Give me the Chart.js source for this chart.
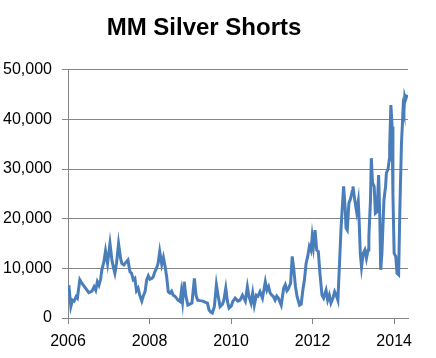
<!DOCTYPE html>
<html>
<head>
<meta charset="utf-8">
<script src="https://cdn.jsdelivr.net/npm/chart.js@4/dist/chart.umd.min.js"></script>
<style>
    body { margin: 0; background: #ffffff; }
    #wrap { width: 436px; height: 358px; }
</style>
</head>
<body>
<div id="wrap"><canvas id="shortsChart" width="436" height="358"></canvas></div>
<script>
// Datos (año decimal, contratos cortos)
const years = [
    2006.02, 2006.07, 2006.11, 2006.15, 2006.20, 2006.23, 2006.29, 2006.34, 2006.43, 2006.51,
    2006.59, 2006.64, 2006.68, 2006.72, 2006.76, 2006.80, 2006.83, 2006.88, 2006.92, 2006.97,
    2007.03, 2007.08, 2007.12, 2007.15, 2007.19, 2007.24, 2007.29, 2007.32, 2007.37, 2007.43,
    2007.47, 2007.52, 2007.56, 2007.60, 2007.64, 2007.68, 2007.72, 2007.76, 2007.81, 2007.85,
    2007.89, 2007.93, 2007.97, 2008.01, 2008.06, 2008.09, 2008.13, 2008.17, 2008.21, 2008.25,
    2008.30, 2008.34, 2008.38, 2008.42, 2008.46, 2008.50, 2008.54, 2008.58, 2008.62, 2008.66,
    2008.70, 2008.75, 2008.78, 2008.81, 2008.85, 2008.89, 2008.94, 2008.99, 2009.04, 2009.10,
    2009.14, 2009.18, 2009.24, 2009.31, 2009.36, 2009.42, 2009.46, 2009.50, 2009.54, 2009.59,
    2009.64, 2009.68, 2009.73, 2009.79, 2009.82, 2009.87, 2009.91, 2009.95, 2010.01, 2010.04,
    2010.10, 2010.17, 2010.22, 2010.28, 2010.35, 2010.40, 2010.44, 2010.49, 2010.53, 2010.57,
    2010.62, 2010.66, 2010.71, 2010.77, 2010.84, 2010.88, 2010.92, 2010.96, 2011.00, 2011.04,
    2011.08, 2011.12, 2011.16, 2011.23, 2011.29, 2011.33, 2011.37, 2011.40, 2011.46, 2011.50,
    2011.54, 2011.58, 2011.62, 2011.68, 2011.72, 2011.76, 2011.80, 2011.84, 2011.88, 2011.92,
    2011.96, 2011.99, 2012.02, 2012.06, 2012.10, 2012.14, 2012.18, 2012.23, 2012.27, 2012.33,
    2012.37, 2012.41, 2012.45, 2012.50, 2012.54, 2012.58, 2012.62, 2012.66, 2012.70, 2012.74,
    2012.76, 2012.80, 2012.82, 2012.85, 2012.89, 2012.93, 2012.97, 2012.99, 2013.03, 2013.08,
    2013.12, 2013.14, 2013.17, 2013.20, 2013.24, 2013.28, 2013.32, 2013.36, 2013.38, 2013.42,
    2013.44, 2013.47, 2013.51, 2013.54, 2013.58, 2013.62, 2013.65, 2013.67, 2013.70, 2013.75,
    2013.79, 2013.81, 2013.85, 2013.88, 2013.89, 2013.92, 2013.95, 2013.97, 2014.00, 2014.04,
    2014.07, 2014.11, 2014.14, 2014.18, 2014.20, 2014.22, 2014.24, 2014.26, 2014.28, 2014.32
];

const shorts = [
    6600, 2300, 3600, 3400, 4300, 4000, 7700, 7000, 6000, 5100,
    5400, 6300, 5600, 7300, 6600, 7800, 9700, 11300, 13500, 11000,
    15000, 11500, 10000, 9000, 11000, 15000, 12000, 11000, 10700, 11300,
    11700, 9300, 9000, 7700, 8000, 5500, 6000, 4600, 3400, 4500,
    5300, 7700, 8500, 7800, 8000, 8300, 9300, 10000, 11000, 13400,
    10800, 12200, 10500, 8300, 5300, 5000, 5400, 4600, 4400, 4000,
    3600, 3300, 5300, 3300, 7300, 4500, 2600, 2800, 3000, 8000,
    4600, 3600, 3500, 3400, 3200, 3000, 1600, 1200, 1000, 2300,
    6700, 4600, 2300, 2800, 3500, 6000, 3400, 2000, 2500, 3300,
    4000, 3400, 3600, 4600, 3400, 6300, 4300, 3000, 5000, 2600,
    4600, 4400, 5300, 4000, 7300, 5600, 6300, 5000, 4600, 4300,
    3600, 4400, 4000, 2600, 6000, 6700, 5500, 5800, 7000, 12400,
    9700, 6300, 4300, 2600, 2800, 5600, 7700, 11000, 12400, 14400,
    13600, 16400, 14400, 17700, 13700, 13400, 9000, 4600, 4000, 5600,
    3600, 4600, 3000, 4000, 5300, 4600, 3600, 11000, 18400, 23800,
    26500, 22000, 18100, 17700, 23100, 24000, 25500, 26500, 24000, 21400,
    23500, 20000, 13000, 10300, 13000, 13700, 12000, 13700, 16400, 23800,
    32200, 27200, 26500, 21100, 21400, 28800, 19800, 9700, 13000, 23800,
    26500, 29200, 30000, 31900, 34500, 42900, 38600, 25100, 13000, 12400,
    9000, 8700, 21800, 35200, 38600, 42300, 41500, 44600, 44000, 45000
];

const yTicks = [0, 10000, 20000, 30000, 40000, 50000];
const xTicks = [2006, 2008, 2010, 2012, 2014];

const GRID = '#868686';
const FONT = "'Liberation Sans', Arial, sans-serif";

document.addEventListener('DOMContentLoaded', function() {
    initializeShortsChart();
});

function initializeShortsChart() {
    const ctx = document.getElementById('shortsChart').getContext('2d');
    const points = years.map((y, i) => ({ x: y, y: shorts[i] }));

    window.shortsChart = new Chart(ctx, {
        type: 'line',
        data: {
            datasets: [{
                label: 'MM Silver Shorts',
                data: points,
                borderColor: '#4a7ebb',
                borderWidth: 3,
                pointRadius: 0,
                fill: false,
                tension: 0
            }]
        },
        options: {
            responsive: false,
            animation: false,
            layout: { padding: { left: 0, right: 28, top: 0, bottom: 0 } },
            plugins: {
                legend: { display: false },
                tooltip: { enabled: false },
                title: {
                    display: true,
                    text: 'MM Silver Shorts',
                    color: '#000000',
                    font: { family: FONT, size: 24, weight: 'bold' },
                    padding: { top: 14, bottom: 27 }
                }
            },
            scales: {
                x: {
                    type: 'linear',
                    min: 2006,
                    max: 2014.34,
                    afterBuildTicks: function(scale) {
                        scale.ticks = xTicks.map(v => ({ value: v }));
                    },
                    afterFit: function(scale) { scale.height = 40; },
                    grid: {
                        drawOnChartArea: false,
                        drawTicks: true,
                        tickLength: 6,
                        color: GRID
                    },
                    border: { color: GRID, width: 1 },
                    ticks: {
                        autoSkip: false,
                        maxRotation: 0,
                        padding: 8,
                        color: '#000000',
                        font: { family: FONT, size: 16 },
                        callback: function(value) { return String(value); }
                    }
                },
                y: {
                    min: 0,
                    max: 50000,
                    afterBuildTicks: function(scale) {
                        scale.ticks = yTicks.map(v => ({ value: v }));
                    },
                    afterFit: function(scale) { scale.width = 68; },
                    grid: {
                        color: GRID,
                        tickLength: 6,
                        lineWidth: 1
                    },
                    border: { color: GRID, width: 1 },
                    ticks: {
                        padding: 10,
                        color: '#000000',
                        font: { family: FONT, size: 16 },
                        callback: function(value) { return value.toLocaleString('en-US'); }
                    }
                }
            }
        }
    });
}
</script>
</body>
</html>
